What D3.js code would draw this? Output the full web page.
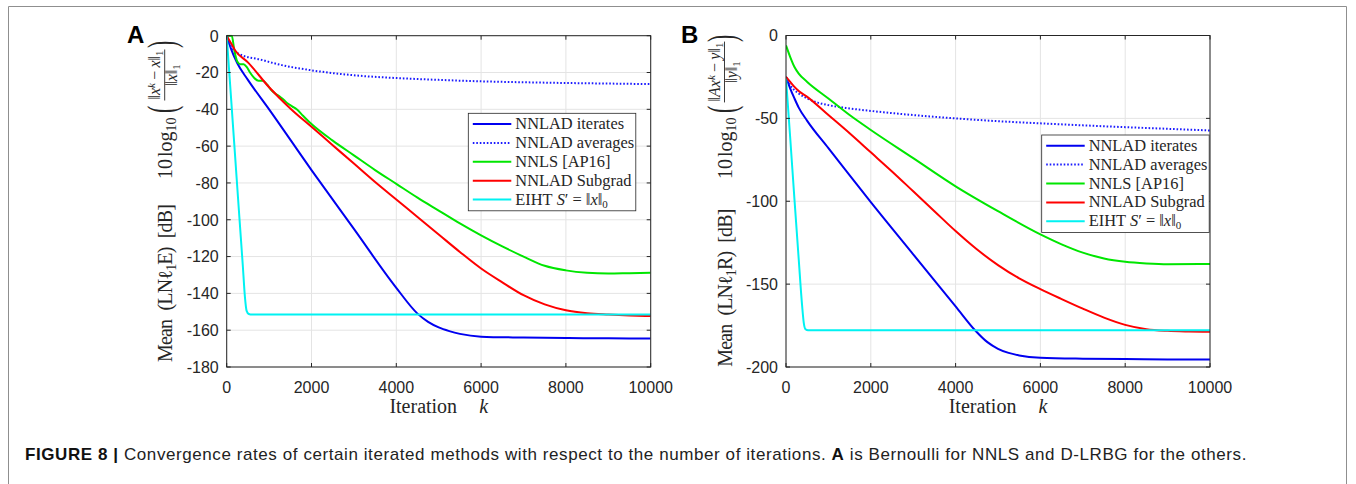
<!DOCTYPE html>
<html>
<head>
<meta charset="utf-8">
<script src="https://cdn.jsdelivr.net/npm/d3@7"></script>
<style>
  body { margin: 0; background: #fff; }
  text { fill: #262626; }
</style>
</head>
<body>
<svg id="fig" width="1356" height="484"></svg>
<script>
// ---- data (dB values per iteration k) ----
var xTicks = [0, 2000, 4000, 6000, 8000, 10000];
var yTicksA = [0, -20, -40, -60, -80, -100, -120, -140, -160, -180];
var yTicksB = [0, -50, -100, -150, -200];

var legendLabels = ["NNLAD iterates", "NNLAD averages", "NNLS [AP16]", "NNLAD Subgrad", "EIHT"];
var seriesColors = ["#0000f0", "#1a1aff", "#00e600", "#ff0000", "#00f2f2"];

// panel A
var kIterA = [0, 100, 250, 500, 1000, 2000, 3000, 4000, 4500, 4750, 5000, 5250, 5500, 6000, 7000, 8000, 9000, 10000];
var iterA  = [0, -7, -15, -24, -40, -73, -105, -137, -151, -155.5, -158.5, -160.5, -162, -163.5, -164, -164.3, -164.4, -164.5];
var kAvgA  = [0, 100, 300, 800, 1300, 2000, 3000, 4000, 5000, 6000, 7000, 8000, 9000, 10000];
var avgA   = [0, -6, -10, -13, -16, -18.8, -21.5, -23, -24, -24.8, -25.3, -25.7, -26, -26.3];
var kNnlsA = [0, 120, 180, 250, 320, 400, 470, 550, 650, 750, 850, 950, 1050, 1150, 1250, 1350, 1450, 1550, 1650, 1800, 2000,
              2500, 3000, 3500, 4000, 4500, 5000, 5500, 6000, 6500, 7000, 7500, 8000, 8500, 9000, 9500, 10000];
var nnlsA  = [0, 0, -8, -14, -15.5, -15.5, -17, -20, -23, -24.5, -24.5, -26.5, -29.5, -31.5, -33, -35, -37, -38.5, -40, -43.5, -48,
              -57, -65, -73, -80.5, -88, -95, -102, -108.5, -114.5, -120, -125, -127.5, -128.8, -129.2, -129, -128.8];
var kSubA  = [0, 100, 200, 500, 1000, 1500, 2000, 2500, 3000, 3500, 4000, 4500, 5000, 5500, 6000, 6500, 7000, 7500, 8000, 8500, 9000, 9500, 10000];
var subA   = [0, -4, -8, -14.5, -28, -39.5, -49.5, -59.5, -69.5, -79.5, -89, -98.5, -108, -117.5, -126.5, -134, -141, -146, -149.2, -150.8, -151.5, -152, -152.3];
var kEihtA = [0, 100, 200, 300, 380, 430, 470, 520, 600, 10000];
var eihtA  = [0, -33, -66, -99, -125, -142, -149.5, -151.2, -151.5, -151.5];

// panel B
var kIterB = [0, 100, 200, 300, 500, 1000, 2000, 3000, 4000, 4458, 4750, 5000, 5250, 5500, 6000, 7000, 8000, 9000, 10000];
var iterB  = [-25, -32, -38, -43.5, -51.5, -68, -100.5, -132, -163.4, -177.8, -185, -189, -191.5, -193, -194.4, -195, -195.2, -195.4, -195.5];
var kAvgB  = [0, 100, 200, 300, 500, 750, 1000, 1500, 2000, 3000, 4000, 5000, 6000, 7000, 8000, 9000, 10000];
var avgB   = [-25, -30, -33, -35, -38, -40.5, -42, -44, -45.5, -48, -50, -51.7, -53, -54.2, -55.3, -56.3, -57.3];
var kNnlsB = [0, 100, 200, 300, 500, 1000, 1500, 2000, 3000, 4000, 5000, 6000, 6500, 7000, 7500, 8000, 8500, 9000, 10000];
var nnlsB  = [-6, -13, -19, -23, -28, -38, -48, -57, -74, -91, -106, -120, -126, -131, -134.5, -136.5, -137.5, -138, -137.8];
var kSubB  = [0, 100, 200, 300, 500, 1000, 1500, 2000, 2500, 3000, 3500, 4000, 4500, 5000, 5500, 6000, 6500, 7000, 7500, 8000, 8500, 9000, 9500, 10000];
var subB   = [-25, -28, -31, -33.5, -37, -48, -59, -70.5, -82, -94, -106, -118, -129, -138.5, -146.5, -153, -159, -164.8, -170.2, -174.6, -177.2, -178.2, -178.6, -178.8];
var kEihtB = [0, 100, 200, 300, 380, 420, 460, 520, 10000];
var eihtB  = [-26, -62, -99, -135, -163, -173.5, -177.2, -177.8, -177.8];

var svg = d3.select("#fig");

// outer frame of the figure box
svg.append("path")
    .attr("d", "M8.5,484V6.5H1346.5V484")
    .attr("fill", "none")
    .attr("stroke", "#8f8f8f");

var panels = [
    { name: "A", left: 226.7, right: 650.7, top: 35.7, bottom: 367, yDomain: [-180, 0], yTicks: yTicksA,
      ks: [kIterA, kAvgA, kNnlsA, kSubA, kEihtA], vs: [iterA, avgA, nnlsA, subA, eihtA],
      legend: [468.3, 113.3], letter: [127, 42.5], lab: { bx: 171.7, by: 362, sym: "E" } },
    { name: "B", left: 786, right: 1210, top: 35.5, bottom: 367, yDomain: [-200, 0], yTicks: yTicksB,
      ks: [kIterB, kAvgB, kNnlsB, kSubB, kEihtB], vs: [iterB, avgB, nnlsB, subB, eihtB],
      legend: [1041.7, 135], letter: [681, 42.5], lab: { bx: 731.5, by: 366.7, sym: "R" } }
];

panels.forEach(function(p, pi) {
    var x = d3.scaleLinear().domain([0, 10000]).range([p.left, p.right]);
    var y = d3.scaleLinear().domain(p.yDomain).range([p.bottom, p.top]);
    var g = svg.append("g");

    // grid
    g.selectAll(".gx").data(xTicks).enter().append("line")
        .attr("x1", d => x(d)).attr("x2", d => x(d))
        .attr("y1", p.top).attr("y2", p.bottom)
        .attr("stroke", "#e4e4e4");
    g.selectAll(".gy").data(p.yTicks).enter().append("line")
        .attr("y1", d => y(d)).attr("y2", d => y(d))
        .attr("x1", p.left).attr("x2", p.right)
        .attr("stroke", "#e4e4e4");

    // curves
    var clipId = "clip" + p.name;
    svg.append("clipPath").attr("id", clipId).append("rect")
        .attr("x", p.left).attr("y", p.top - 1)
        .attr("width", p.right - p.left).attr("height", p.bottom - p.top + 1);
    var line = d3.line().x(d => x(d[0])).y(d => y(d[1])).curve(d3.curveMonotoneX);
    var cg = g.append("g").attr("clip-path", "url(#" + clipId + ")");
    p.ks.forEach(function(k, i) {
        cg.append("path")
            .attr("d", line(d3.zip(k, p.vs[i])))
            .attr("fill", "none")
            .attr("stroke", seriesColors[i])
            .attr("stroke-width", 2)
            .attr("stroke-dasharray", i == 1 ? "1.6,1.9" : null);
    });

    // axes box + inward ticks (MATLAB style)
    var ax = g.append("g").attr("stroke", "#262626").attr("fill", "none");
    ax.append("rect").attr("x", p.left).attr("y", p.top)
        .attr("width", p.right - p.left).attr("height", p.bottom - p.top);
    xTicks.forEach(function(t) {
        ax.append("line").attr("x1", x(t)).attr("x2", x(t)).attr("y1", p.bottom).attr("y2", p.bottom - 4);
        ax.append("line").attr("x1", x(t)).attr("x2", x(t)).attr("y1", p.top).attr("y2", p.top + 4);
    });
    p.yTicks.forEach(function(t) {
        ax.append("line").attr("y1", y(t)).attr("y2", y(t)).attr("x1", p.left).attr("x2", p.left + 4);
        ax.append("line").attr("y1", y(t)).attr("y2", y(t)).attr("x1", p.right).attr("x2", p.right - 4);
    });

    // tick labels
    g.selectAll(".tx").data(xTicks).enter().append("text")
        .attr("x", d => x(d)).attr("y", p.bottom + 26)
        .attr("text-anchor", "middle")
        .style("font", "16px 'Liberation Sans', Arial, sans-serif")
        .text(d => d);
    g.selectAll(".ty").data(p.yTicks).enter().append("text")
        .attr("x", p.left - 8).attr("y", d => y(d) + 5.8)
        .attr("text-anchor", "end")
        .style("font", "16px 'Liberation Sans', Arial, sans-serif")
        .text(d => d);

    // x label
    var xl = g.append("text")
        .attr("x", (p.left + p.right) / 2).attr("y", p.bottom + 46)
        .attr("text-anchor", "middle")
        .style("font", "20px 'Liberation Serif', 'Times New Roman', serif");
    xl.append("tspan").text("Iteration");
    xl.append("tspan").attr("dx", 22).style("font-style", "italic").text("k");

    // panel letter
    g.append("text").attr("x", p.letter[0]).attr("y", p.letter[1])
        .style("font", "bold 24px 'Liberation Sans', Arial, sans-serif")
        .style("fill", "#000")
        .text(p.name);

    // y label (rotated, with a fraction)
    var lb = p.lab;
    var yl = g.append("g").attr("transform", "translate(" + lb.bx + "," + lb.by + ") rotate(-90)")
        .style("font-family", "'Liberation Serif', 'Times New Roman', serif");
    var t1 = yl.append("text").attr("x", 0).attr("y", 0).style("font-size", "20px")
        .attr("textLength", 158).attr("lengthAdjust", "spacing");
    t1.append("tspan").text("Mean\u2002(LN\u2113");
    t1.append("tspan").attr("dy", 4).style("font-size", "14px").text("1");
    t1.append("tspan").attr("dy", -4).text(lb.sym + ")\u2002[dB]");

    var t2 = yl.append("text").attr("x", lb.by - 179).attr("y", 0).style("font-size", "20px");
    t2.append("tspan").text("10");
    t2.append("tspan").attr("dx", 2).text("log");
    t2.append("tspan").attr("dy", 4).style("font-size", "14px").text("10");

    var fc = pi == 0 ? lb.by - 75 : lb.by - 72;
    var parL = lb.by - 113, parR = pi == 0 ? lb.by - 48 : lb.by - 42;
    yl.append("text").attr("transform", "translate(" + parL + ",3.4) scale(0.55,1)")
        .style("font-size", "40px").text("(");
    yl.append("text").attr("transform", "translate(" + parR + ",3.4) scale(0.55,1)")
        .style("font-size", "40px").text(")");

    var num = yl.append("text").attr("x", fc).attr("y", -12)
        .attr("text-anchor", "middle").style("font-size", "16px");
    num.append("tspan").text("\u2016");
    if (pi == 1) num.append("tspan").style("font-style", "italic").text("A");
    num.append("tspan").style("font-style", "italic").text("x");
    num.append("tspan").attr("dy", -5).style("font-size", "11px").style("font-style", "italic").text("k");
    num.append("tspan").attr("dy", 5).text("\u2009\u2212\u2009");
    num.append("tspan").style("font-style", "italic").text(pi == 0 ? "x" : "y");
    num.append("tspan").text("\u2016");
    num.append("tspan").attr("dy", 3).style("font-size", "11px").text("1");

    var den = yl.append("text").attr("x", fc).attr("y", 5)
        .attr("text-anchor", "middle").style("font-size", "16px");
    den.append("tspan").text("\u2016");
    den.append("tspan").style("font-style", "italic").text(pi == 0 ? "x" : "y");
    den.append("tspan").text("\u2016");
    den.append("tspan").attr("dy", 3).style("font-size", "11px").text("1");

    var nw = num.node().getComputedTextLength();
    yl.append("line").attr("x1", fc - nw / 2 - 1).attr("x2", fc + nw / 2 + 1)
        .attr("y1", -7).attr("y2", -7)
        .attr("stroke", "#262626").attr("stroke-width", 0.9);

    // legend
    var lx = p.legend[0], ly = p.legend[1];
    var lg = g.append("g");
    lg.append("rect").attr("x", lx).attr("y", ly).attr("width", 167.5).attr("height", 97.5)
        .attr("fill", "#fff").attr("stroke", "#262626").attr("stroke-width", 0.8);
    legendLabels.forEach(function(name, i) {
        var ry = ly + 10.7 + i * 18.9;
        lg.append("line").attr("x1", lx + 4.5).attr("x2", lx + 43)
            .attr("y1", ry).attr("y2", ry)
            .attr("stroke", seriesColors[i]).attr("stroke-width", 2)
            .attr("stroke-dasharray", i == 1 ? "1.6,1.9" : null);
        var tt = lg.append("text").attr("x", lx + 47).attr("y", ry + 5)
            .style("font", "16.4px 'Liberation Serif', 'Times New Roman', serif");
        tt.append("tspan").text(name);
        if (i == 4) {
            tt.append("tspan").attr("dx", 4).style("font-style", "italic").text("S");
            tt.append("tspan").text("\u2032 = \u2016");
            tt.append("tspan").style("font-style", "italic").text("x");
            tt.append("tspan").text("\u2016");
            tt.append("tspan").attr("dy", 3).style("font-size", "11px").text("0");
        }
    });
});

// caption, one line stretched to the width it has in the figure
var cap = svg.append("text").attr("x", 25).attr("y", 460)
    .style("font", "17px 'Liberation Sans', Arial, sans-serif");
cap.append("tspan").style("font-weight", "bold").style("fill", "#111").text("FIGURE 8 |");
cap.append("tspan").style("fill", "#222").text(" Convergence rates of certain iterated methods with respect to the number of iterations. ");
cap.append("tspan").style("font-weight", "bold").style("fill", "#111").text("A");
cap.append("tspan").style("fill", "#222").text(" is Bernoulli for NNLS and D-LRBG for the others.");
var capLen = cap.node().getComputedTextLength();
var capChars = cap.text().length;
cap.style("letter-spacing", ((1222 - capLen) / capChars) + "px");
</script>
</body>
</html>
